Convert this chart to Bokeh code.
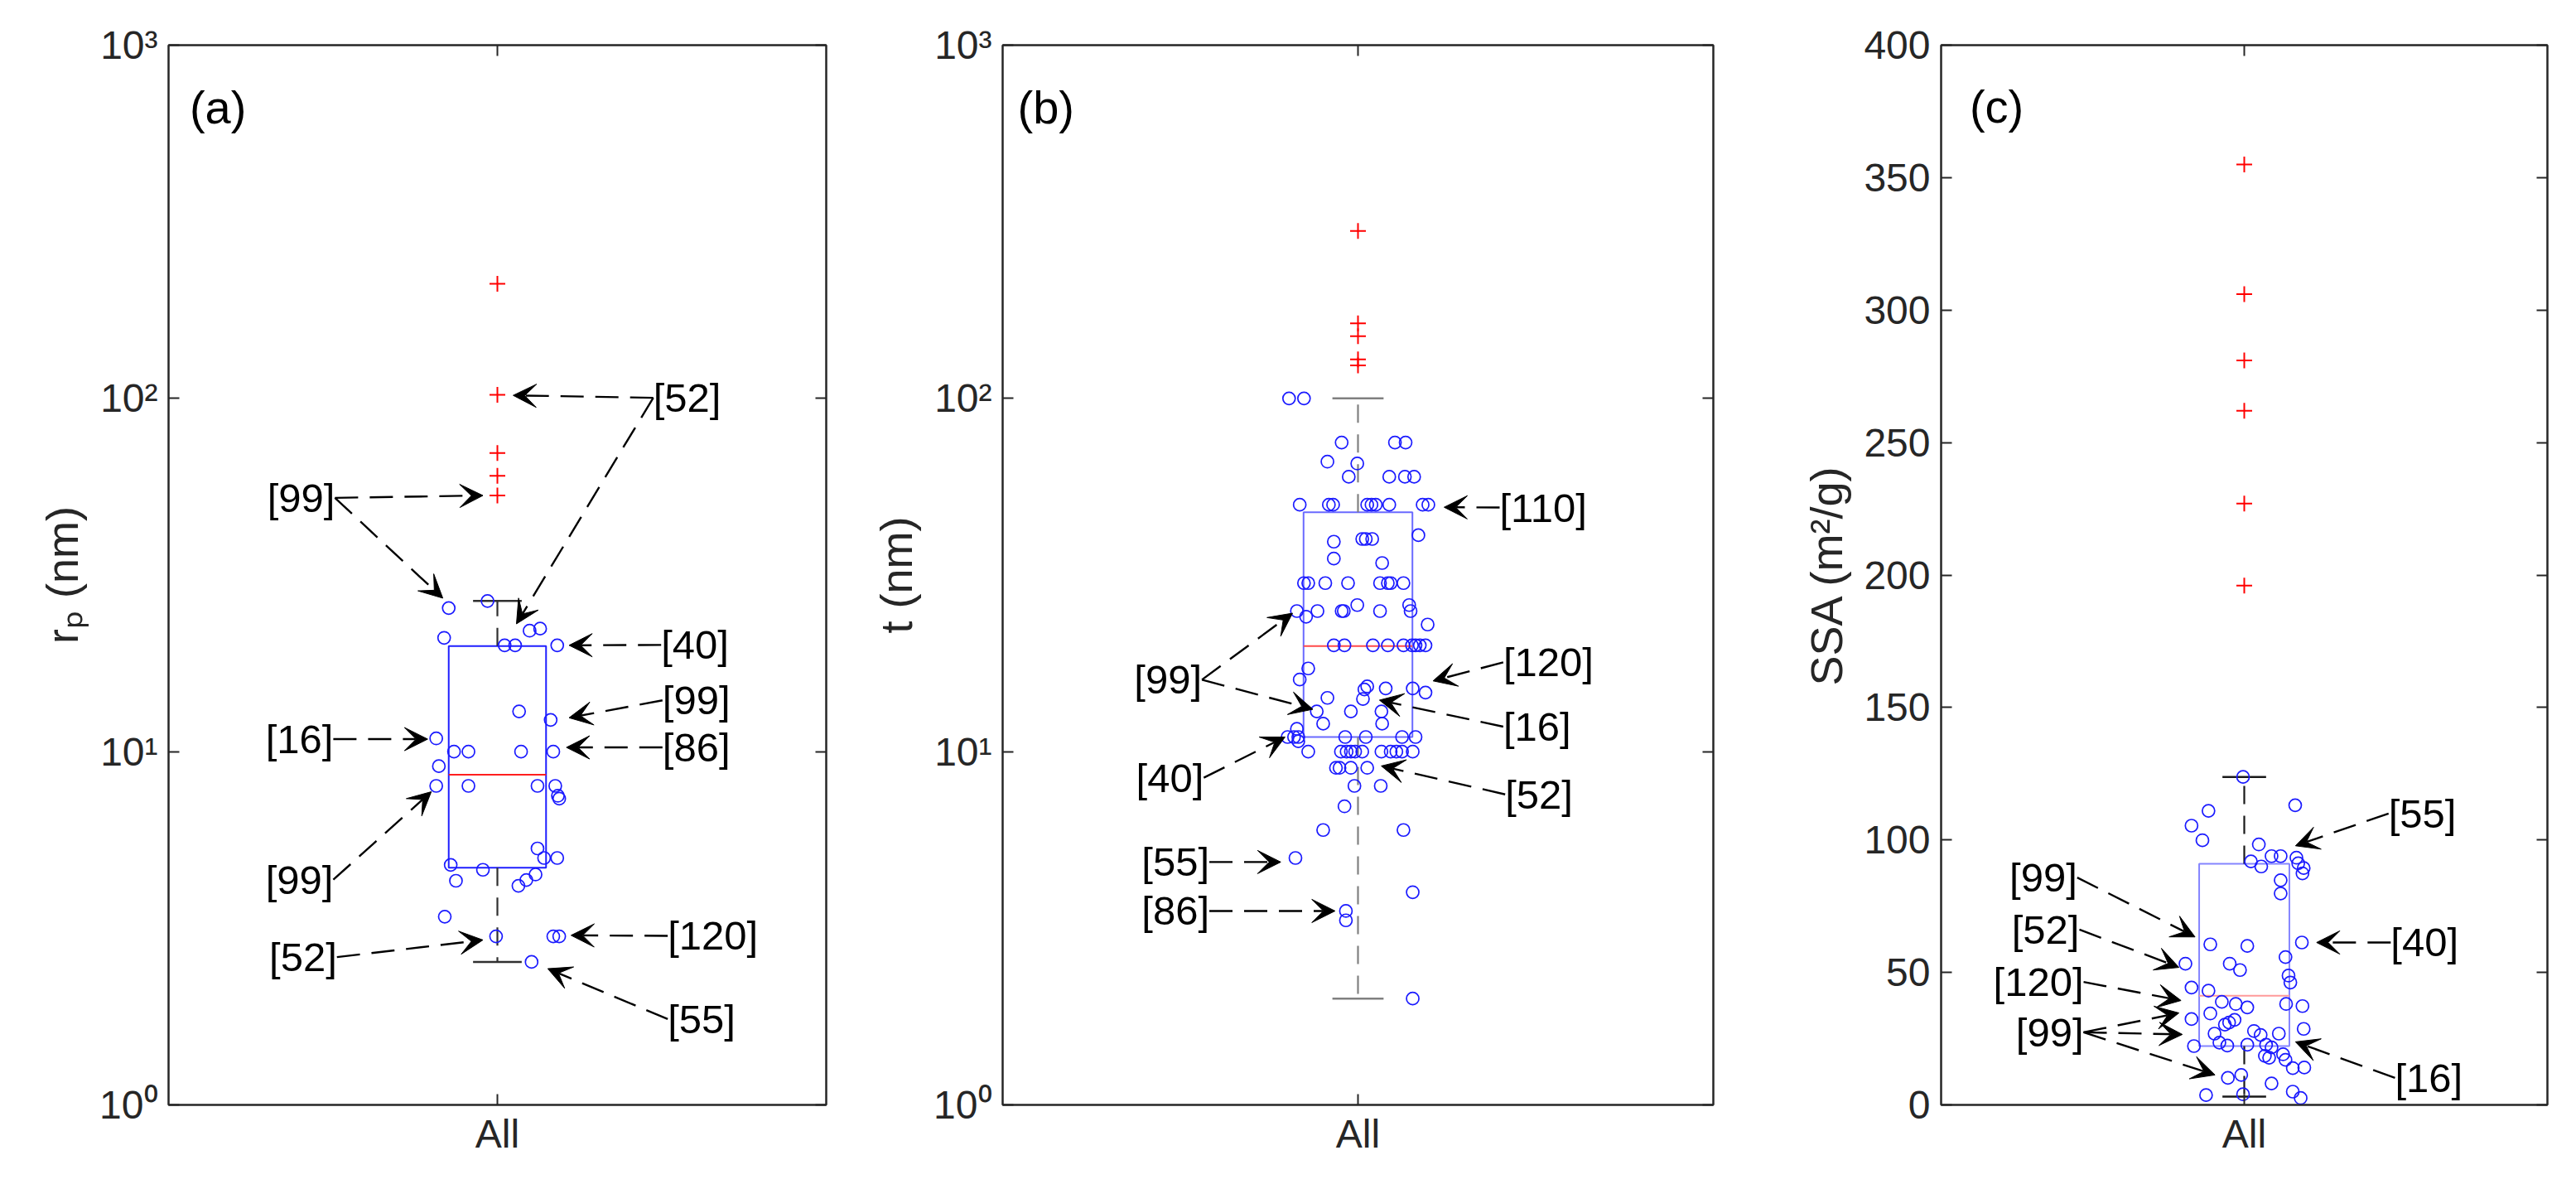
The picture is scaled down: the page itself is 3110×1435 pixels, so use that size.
from bokeh.plotting import figure
from bokeh.models import Range1d, FixedTicker, LinearAxis, LogAxis, Label, Arrow, VeeHead
from bokeh.layouts import row
from bokeh.embed import file_html
from bokeh.resources import INLINE

# ---------------- data ----------------
category_label = "All"
log_tick_values = [1, 10, 100, 1000]
log_tick_labels = ["10\u2070", "10\u00b9", "10\u00b2", "10\u00b3"]
ssa_tick_values = [0, 50, 100, 150, 200, 250, 300, 350, 400]

# (a) pore radius r_p (nm)
rp_values = [25.5, 26.7, 21.0, 22.0, 22.3, 20, 20, 20, 13.0, 12.3, 10.9, 10, 10, 10, 10, 9.1,
             8.0, 8.0, 8.0, 8.0, 7.5, 7.36, 5.32, 5.0, 5.0, 4.78, 4.63, 4.31, 4.49, 4.33, 4.17,
             3.41, 3.0, 3.0, 3.0, 2.54]
rp_jitter = [-0.074, -0.015, -0.081, 0.049, 0.065, 0.011, 0.027, 0.091, 0.033, 0.081, -0.093,
             -0.066, -0.044, 0.036, 0.085, -0.089, -0.093, -0.044, 0.061, 0.088, 0.092, 0.094,
             0.061, 0.071, 0.091, -0.071, -0.022, -0.063, 0.058, 0.044, 0.032, -0.080, -0.002,
             0.085, 0.094, 0.052]
rp_outliers = [211, 102.4, 70, 60.4, 53.1]
rp_box = [2.54, 4.69, 8.6, 19.9, 26.7]          # lower whisker, q1, median, q3, upper whisker

# (b) thickness t (nm)
t_values = [100, 100, 75, 75, 75, 66.2, 65.4, 60, 60, 60, 60,
            50, 50, 50, 50, 50, 50, 50, 50, 50,
            41, 40, 40, 40, 39.3, 35.2, 34.2,
            30, 30, 30, 30, 30, 30, 30, 30,
            25.0, 24.1, 25, 25, 25, 25, 25, 26, 26, 22.9,
            20, 20, 20, 20, 20, 20, 20, 20, 20,
            17.2, 16.0, 15.3, 15.0, 15.1, 15.1, 14.7, 14.2, 14.1,
            13, 13, 13, 12, 12,
            11, 11, 11, 11, 11, 11, 11, 11.6, 10.7,
            10, 10, 10, 10, 10, 10, 10, 10, 10, 10, 10,
            9, 9, 9, 9, 8, 8, 7, 6, 6, 5, 4, 3.54, 3.33, 2.0]
t_jitter = [-0.097, -0.076, -0.023, 0.052, 0.067, -0.043, -0.001, -0.013, 0.044, 0.066, 0.079,
            -0.082, -0.041, -0.035, 0.013, 0.019, 0.025, 0.044, 0.091, 0.099,
            0.085, 0.006, 0.011, 0.020, -0.034, -0.034, 0.034,
            -0.076, -0.070, -0.046, -0.014, 0.031, 0.042, 0.046, 0.064,
            -0.086, -0.073, -0.057, -0.023, -0.020, 0.031, 0.074, -0.001, 0.072, 0.098,
            -0.034, -0.019, 0.021, 0.042, 0.064, 0.076, 0.081, 0.087, 0.095,
            -0.070, -0.082, 0.013, 0.009, 0.039, 0.077, 0.095, -0.043, 0.007,
            -0.058, -0.010, 0.033, -0.049, 0.034,
            -0.099, -0.090, -0.084, -0.018, 0.011, 0.062, 0.081, -0.086, -0.084,
            -0.070, -0.024, -0.016, -0.010, -0.004, 0.006, 0.033, 0.046, 0.054, 0.062, 0.077,
            -0.031, -0.026, -0.010, 0.013, -0.005, 0.032, -0.019, -0.049, 0.064, -0.088, 0.077,
            -0.017, -0.017, 0.077]
t_outliers = [298, 163, 150, 129, 124]
t_box = [2.0, 11.0, 19.9, 47.6, 100]

# (c) specific surface area SSA (m2/g)
ssa_values = [123.8, 113.1, 111.0, 105.4, 99.9, 98.3, 91.9, 90.0, 93.9, 93.9, 93.3, 91.2, 89.4,
              87.4, 84.8, 79.8, 60.6, 60.0, 61.3, 53.3, 53.3, 50.9, 55.8, 48.8, 46.2, 44.3, 43.1,
              38.9, 38.1, 36.8, 38.1, 37.3, 34.5, 32.4, 32.1, 30.3, 31.1, 28.7, 27.9, 26.4, 26.9,
              26.9, 22.7, 22.7, 22.4, 23.5, 22.2, 21.7, 19.1, 18.5, 17.8, 17.0, 13.9, 14.1, 10.2,
              11.3, 8.1, 3.7, 4.0, 5.0, 2.6]
ssa_jitter = [-0.002, 0.084, -0.059, -0.087, -0.069, 0.024, 0.011, 0.028, 0.045, 0.060, 0.086,
              0.089, 0.098, 0.096, 0.060, 0.060, -0.056, 0.005, 0.095, -0.097, -0.024, -0.007,
              0.068, 0.073, 0.076, -0.087, -0.059, -0.037, -0.014, 0.005, 0.069, 0.096, -0.056,
              -0.087, -0.016, -0.032, -0.025, 0.098, 0.016, 0.027, 0.057, -0.049, 0.036, 0.005,
              -0.028, -0.041, -0.083, 0.045, 0.064, 0.034, 0.041, 0.068, 0.080, 0.099, -0.027,
              -0.005, 0.045, -0.063, -0.002, 0.080, 0.093]
ssa_outliers = [355, 306, 281, 262, 227, 196]
ssa_box = [3.1, 22.2, 41.2, 91.0, 123.8]

# annotations: (text, tail x, tail y, text_align, [(head x, head y), ...])
rp_notes = [
    ("[52]", 1.237, 100.4, "left", [(1.024, 102), (1.029, 23)]),
    ("[99]", 0.753, 52.3, "right", [(0.978, 53.1), (0.917, 27.2)]),
    ("[40]", 1.249, 20.05, "left", [(1.109, 20.0)]),
    ("[99]", 1.251, 13.97, "left", [(1.109, 12.47)]),
    ("[86]", 1.251, 10.28, "left", [(1.105, 10.28)]),
    ("[16]", 0.7505, 10.85, "right", [(0.894, 10.85)]),
    ("[99]", 0.7505, 4.34, "right", [(0.8995, 7.70)]),
    ("[52]", 0.756, 2.62, "right", [(0.978, 2.93)]),
    ("[120]", 1.259, 3.01, "left", [(1.112, 3.02)]),
    ("[55]", 1.259, 1.75, "left", [(1.0766, 2.43)]),
]
t_notes = [
    ("[110]", 1.1993, 49.1, "left", [(1.1212, 49.2)]),
    ("[99]", 0.7804, 15.98, "right", [(0.9079, 24.66), (0.9365, 13.18)]),
    ("[40]", 0.783, 8.44, "right", [(0.8974, 11.0)]),
    ("[55]", 0.7908, 4.87, "right", [(0.8913, 4.87)]),
    ("[86]", 0.7908, 3.54, "right", [(0.9677, 3.54)]),
    ("[120]", 1.2044, 17.9, "left", [(1.1056, 15.86)]),
    ("[16]", 1.2044, 11.77, "left", [(1.0302, 13.99)]),
    ("[52]", 1.2071, 7.57, "left", [(1.0328, 9.11)]),
]
ssa_notes = [
    ("[55]", 1.238, 110.0, "left", [(1.0844, 97.8)]),
    ("[99]", 0.7245, 85.8, "right", [(0.9188, 63.4)]),
    ("[52]", 0.7281, 66.2, "right", [(0.8923, 51.9)]),
    ("[120]", 0.735, 46.4, "right", [(0.8957, 39.4)]),
    ("[99]", 0.735, 27.4, "right", [(0.8923, 34.7), (0.8979, 26.6), (0.9517, 11.3)]),
    ("[40]", 1.2416, 61.3, "left", [(1.1193, 61.3)]),
    ("[16]", 1.2486, 10.2, "left", [(1.0844, 23.8)]),
]

FONT = "Liberation Sans"
AXC = "#262626"


def style_axis(ax):
    ax.axis_line_color = AXC
    ax.axis_line_width = 2
    ax.major_tick_line_color = AXC
    ax.major_tick_line_width = 2
    ax.major_tick_in = 13
    ax.major_tick_out = 0
    ax.minor_tick_line_color = None
    ax.major_label_text_font = FONT
    ax.major_label_text_font_size = "48px"
    ax.major_label_text_color = AXC
    ax.axis_label_text_font = FONT
    ax.axis_label_text_font_size = "54px"
    ax.axis_label_text_font_style = "normal"
    ax.axis_label_text_color = AXC


def make_panel(width, bl, br, log, values, jitter, outliers, box, notes, ylabel, tag, tag_pos,
               box_col, med_col, wh_col, half_w, cap_w):
    kw = dict(width=width, height=1419, x_range=Range1d(0.5, 1.5),
              toolbar_location=None, output_backend="svg",
              min_border_left=bl, min_border_right=br, min_border_top=54, min_border_bottom=86)
    if log:
        p = figure(y_axis_type="log", y_range=Range1d(1, 1000), **kw)
        ticks = log_tick_values
        overrides = dict(zip(log_tick_values, log_tick_labels))
    else:
        p = figure(y_range=Range1d(0, 400), **kw)
        ticks = ssa_tick_values
        overrides = {}
    p.xgrid.visible = False
    p.ygrid.visible = False
    p.outline_line_color = AXC
    p.outline_line_width = 2
    p.background_fill_color = "white"
    p.border_fill_color = "white"

    p.xaxis.ticker = FixedTicker(ticks=[1])
    p.xaxis.major_label_overrides = {1: category_label}
    p.xaxis.major_label_standoff = 8
    style_axis(p.xaxis[0])
    p.yaxis.ticker = FixedTicker(ticks=ticks)
    if overrides:
        p.yaxis.major_label_overrides = overrides
    p.yaxis.major_label_standoff = 13
    p.yaxis.axis_label = ylabel
    p.yaxis.axis_label_standoff = 12
    style_axis(p.yaxis[0])

    AxisCls = LogAxis if log else LinearAxis
    right = AxisCls(ticker=FixedTicker(ticks=ticks),
                    major_label_overrides={t: "" for t in ticks}, major_label_standoff=0)
    style_axis(right)
    p.add_layout(right, "right")
    top = LinearAxis(ticker=FixedTicker(ticks=[1]), major_label_overrides={1: ""},
                     major_label_standoff=0)
    style_axis(top)
    p.add_layout(top, "above")

    lo, q1, med, q3, hi = box
    # box
    p.quad(left=[1 - half_w], right=[1 + half_w], bottom=[q1], top=[q3],
           fill_color=None, line_color=box_col, line_width=2)
    p.segment(x0=[1 - half_w], x1=[1 + half_w], y0=[med], y1=[med],
              line_color=med_col, line_width=2)
    # whiskers
    p.segment(x0=[1, 1], x1=[1, 1], y0=[q3, q1], y1=[hi, lo],
              line_color=wh_col, line_width=2.2, line_dash="22 14")
    p.segment(x0=[1 - cap_w, 1 - cap_w], x1=[1 + cap_w, 1 + cap_w], y0=[hi, lo], y1=[hi, lo],
              line_color=wh_col, line_width=2.5)
    # points
    xs = [1 + j for j in jitter]
    p.scatter(x=xs, y=values, marker="circle", size=15, fill_color=None,
              line_color="#1a1aff", line_width=1.7)
    p.scatter(x=[1] * len(outliers), y=outliers, marker="cross", size=19,
              line_color="#ff0000", line_width=2)

    # annotations
    for text, tx, ty, align, heads in notes:
        for hx, hy in heads:
            p.add_layout(Arrow(end=VeeHead(size=28, fill_color="black", line_color="black",
                                           line_width=1),
                               x_start=tx, y_start=ty, x_end=hx, y_end=hy,
                               line_color="black", line_width=2.4, line_dash="28 14"))
        p.add_layout(Label(x=tx, y=ty, text=text, text_align=align, text_baseline="middle",
                           text_font=FONT, text_font_size="49px", text_color="black"))
    p.add_layout(Label(x=tag_pos[0], y=tag_pos[1], text=tag, text_align="left",
                       text_baseline="middle", text_font=FONT, text_font_size="56px",
                       text_color="black"))
    return p


pa = make_panel(1032, 203, 35, True, rp_values, rp_jitter, rp_outliers, rp_box, rp_notes,
                "r\u209a (nm)", "(a)", (0.532, 668), "#1f1fff", "#ff1f1f", "#303030",
                0.074, 0.037)
pb = make_panel(1070, 178, 34, True, t_values, t_jitter, t_outliers, t_box, t_notes,
                "t (nm)", "(b)", (0.521, 668), "#6a6aff", "#ff4a4a", "#808080",
                0.0766, 0.036)
pc = make_panel(992, 241, 19, False, ssa_values, ssa_jitter, ssa_outliers, ssa_box, ssa_notes,
                "SSA (m\u00b2/g)", "(c)", (0.547, 377), "#8585ff", "#ff9a9a", "#1a1a1a",
                0.0744, 0.036)

layout = row(pa, pb, pc)
open("out.html", "w").write(file_html(layout, INLINE))
